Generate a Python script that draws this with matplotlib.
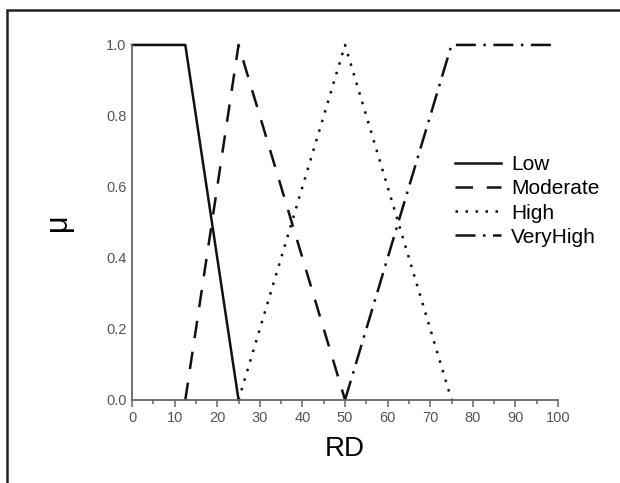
#!/usr/bin/env python3
"""Membership functions for RD."""
import matplotlib
matplotlib.use("Agg")
import matplotlib.pyplot as plt
from matplotlib.patches import Rectangle

# membership function break points
rd_low = [0, 12.5, 25]
mu_low = [1, 1, 0]
rd_moderate = [12.5, 25, 50]
mu_moderate = [0, 1, 0]
rd_high = [25, 50, 75]
mu_high = [0, 1, 0]
rd_veryhigh = [50, 75, 100]
mu_veryhigh = [0, 1, 1]

x_ticks = list(range(0, 101, 10))
y_ticks = [0.0, 0.2, 0.4, 0.6, 0.8, 1.0]

plt.rcParams["font.family"] = ["Liberation Sans", "DejaVu Sans"]

fig = plt.figure(figsize=(6.2, 4.83), dpi=100)
ax = fig.add_axes([0.213, 0.172, 0.687, 0.735])

lw = 1.8
ax.plot(rd_low, mu_low, color="#111111", lw=lw, label="Low", clip_on=False)
ax.plot(rd_moderate, mu_moderate, color="#111111", lw=lw, dashes=(7, 5.5),
        label="Moderate", clip_on=False)
ax.plot(rd_high, mu_high, color="#111111", lw=lw, dashes=(1, 3),
        label="High", clip_on=False)
ax.plot(rd_veryhigh, mu_veryhigh, color="#111111", lw=lw,
        dashes=(8, 3, 1, 3), label="VeryHigh", clip_on=False)

ax.set_xlim(0, 100)
ax.set_ylim(0, 1)
ax.set_xticks(x_ticks)
ax.set_xticks(range(5, 100, 10), minor=True)
ax.set_yticks(y_ticks)
ax.set_yticklabels([f"{v:.1f}" for v in y_ticks])

for side in ("top", "right"):
    ax.spines[side].set_visible(False)
for side in ("left", "bottom"):
    ax.spines[side].set_color("#666666")
    ax.spines[side].set_linewidth(1.3)

ax.tick_params(axis="x", which="major", length=5, width=1.1, color="#666666",
               labelsize=10.5, labelcolor="#555555", pad=3)
ax.tick_params(axis="x", which="minor", length=3, width=1.1, color="#666666")
ax.tick_params(axis="y", length=0, labelsize=10.5, labelcolor="#555555", pad=4)

ax.set_xlabel("RD", fontsize=20, labelpad=8)
ax.set_ylabel("μ", fontsize=22, labelpad=24)

ax.legend(loc="center left", bbox_to_anchor=(0.734, 0.584),
          bbox_transform=fig.transFigure, frameon=False, fontsize=15,
          handlelength=2.2, handletextpad=0.5, labelspacing=0.25,
          borderpad=0, borderaxespad=0)

# outer frame around the figure
fig.patches.append(Rectangle((0.0113, -0.05), 1.1, 1.029, transform=fig.transFigure,
                             fill=False, edgecolor="#222222", lw=1.8))

fig.savefig("out.png", dpi=100)
